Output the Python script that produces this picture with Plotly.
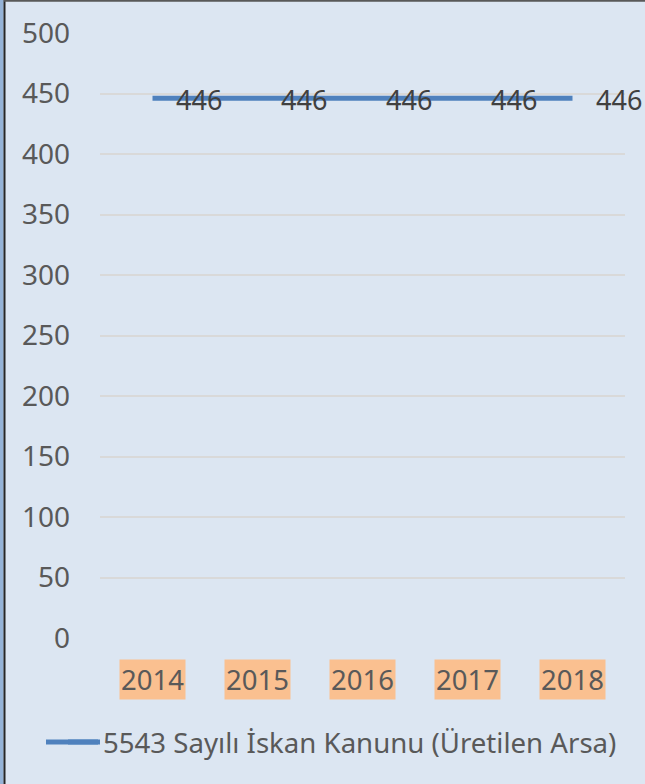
import plotly.graph_objects as go

years = ["2014", "2015", "2016", "2017", "2018"]
values = [446, 446, 446, 446, 446]
series_name = "5543 Sayılı İskan Kanunu (Üretilen Arsa)"
y_ticks = [0, 50, 100, 150, 200, 250, 300, 350, 400, 450, 500]

W, H = 645, 784
L, R, T, B = 100, 20, 33, 146
PW, PH = W - L - R, H - T - B

def px_x(p):
    return (p - L) / PW

def px_y(p):
    return (H - B - p) / PH

FONT = "Noto Sans"
LINE_COLOR = "#4f81bd"

fig = go.Figure()
fig.add_trace(go.Scatter(
    x=years, y=values, mode="lines", name=series_name,
    line=dict(color=LINE_COLOR, width=5),
))

annotations = []
for i, v in enumerate(values):
    annotations.append(dict(
        x=i, y=v, xref="x", yref="y", text=str(v), showarrow=False,
        xanchor="left", yanchor="middle", xshift=21, yshift=-1,
        font=dict(family=FONT, size=27, color="#404040"),
    ))
for i, yr in enumerate(years):
    annotations.append(dict(
        x=i, y=0, xref="x", yref="y", text=yr, showarrow=False,
        xanchor="center", yanchor="middle", yshift=-41,
        bgcolor="#fac090", borderpad=1,
        font=dict(family=FONT, size=27.5, color="#595959"),
    ))

LEG_Y = 742
shapes = [
    dict(type="rect", xref="paper", yref="paper",
         x0=px_x(0), x1=px_x(3.5), y0=px_y(H), y1=px_y(0),
         fillcolor="#95b3d7", line=dict(width=0), layer="above"),
    dict(type="line", xref="paper", yref="paper",
         x0=px_x(4.5), x1=px_x(4.5), y0=px_y(H), y1=px_y(0),
         line=dict(color="#262626", width=2), layer="above"),
    dict(type="line", xref="paper", yref="paper",
         x0=px_x(4), x1=px_x(W), y0=px_y(0.8), y1=px_y(0.8),
         line=dict(color="#595959", width=2), layer="above"),
    # longer legend line sample drawn over plotly's short one
    dict(type="line", xref="paper", yref="paper",
         x0=px_x(46), x1=px_x(100), y0=px_y(LEG_Y), y1=px_y(LEG_Y),
         line=dict(color=LINE_COLOR, width=5), layer="above"),
]

fig.update_layout(
    width=W, height=H,
    margin=dict(l=L, r=R, t=T, b=B, pad=0),
    paper_bgcolor="#dce6f2", plot_bgcolor="#dce6f2",
    font=dict(family=FONT, size=27, color="#595959"),
    showlegend=True,
    legend=dict(
        orientation="h", x=px_x(63), y=px_y(LEG_Y), xanchor="left", yanchor="middle",
        font=dict(family=FONT, size=27.6, color="#595959"),
        bgcolor="rgba(0,0,0,0)",
    ),
    annotations=annotations,
    shapes=shapes,
)
fig.update_xaxes(type="category", categoryorder="array", categoryarray=years,
                 range=[-0.5, len(years) - 0.5], autorange=False,
                 showticklabels=False, showgrid=False,
                 zeroline=False, showline=False, ticks="")
fig.update_yaxes(range=[0, 500], tickvals=y_ticks, showgrid=True,
                 gridcolor="#d9d9d9", gridwidth=1.5, zeroline=False, showline=False,
                 ticks="", ticklabelstandoff=29,
                 tickfont=dict(family=FONT, size=28, color="#595959"))

fig.write_html("out.html", config={"displayModeBar": False},
               post_script="document.body.style.margin='0';")
